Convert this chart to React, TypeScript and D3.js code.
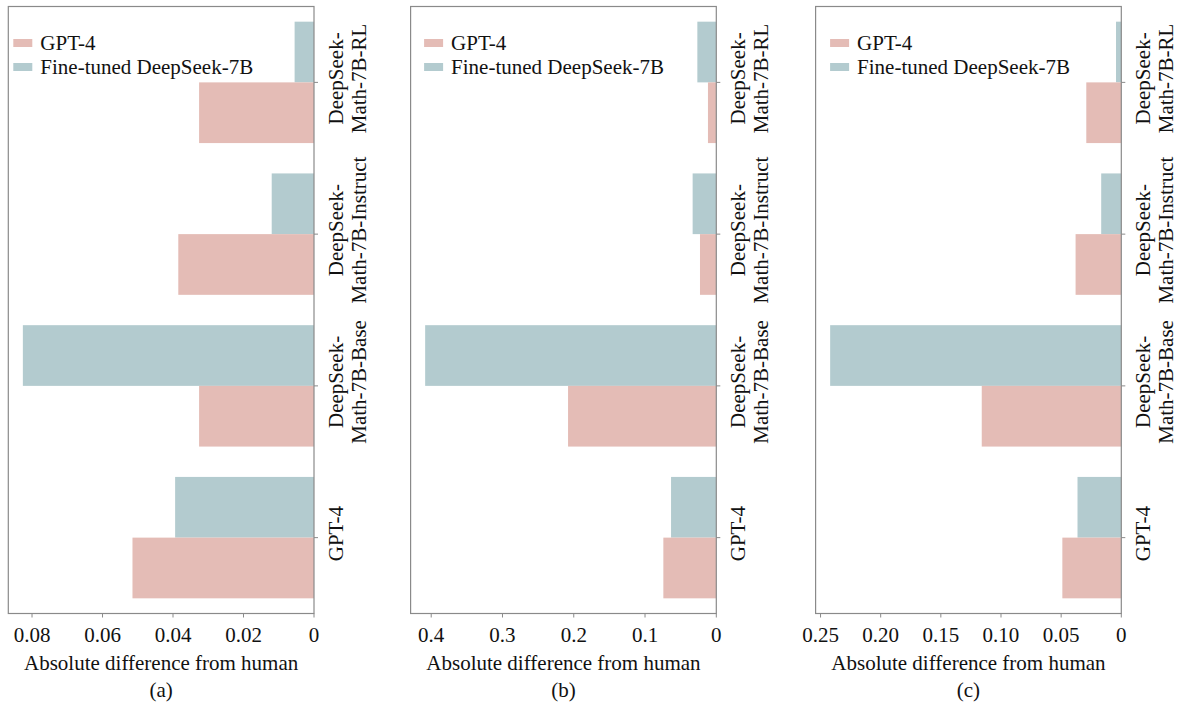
import React from 'react';
import * as d3 from 'd3';

// categories, top to bottom
const categories = ['DeepSeek-Math-7B-RL', 'DeepSeek-Math-7B-Instruct', 'DeepSeek-Math-7B-Base', 'GPT-4'];
const categoryLines = [
  ['DeepSeek-', 'Math-7B-RL'],
  ['DeepSeek-', 'Math-7B-Instruct'],
  ['DeepSeek-', 'Math-7B-Base'],
  ['GPT-4'],
];

const seriesNames = ['GPT-4', 'Fine-tuned DeepSeek-7B'];
const seriesColors = ['#e4bcb6', '#b3cbcf'];

// values per panel, same order as categories
const gpt4A = [0.0326, 0.0385, 0.0326, 0.0515];
const tunedA = [0.0055, 0.0120, 0.0826, 0.0394];
const gpt4B = [0.0117, 0.0229, 0.208, 0.0743];
const tunedB = [0.0266, 0.0332, 0.4085, 0.0635];
const gpt4C = [0.0291, 0.038, 0.116, 0.049];
const tunedC = [0.0044, 0.0167, 0.242, 0.0364];

const ticksA = [0.08, 0.06, 0.04, 0.02, 0];
const ticksB = [0.4, 0.3, 0.2, 0.1, 0];
const ticksC = [0.25, 0.2, 0.15, 0.1, 0.05, 0];

const panels = [
  { name: '(a)', left: 8.3, legendDx: 5, gpt4: gpt4A, tuned: tunedA, ticks: ticksA, fmt: (v: number) => (v === 0 ? '0' : d3.format('.2f')(v)) },
  { name: '(b)', left: 410.6, legendDx: 13.5, gpt4: gpt4B, tuned: tunedB, ticks: ticksB, fmt: (v: number) => (v === 0 ? '0' : d3.format('.1f')(v)) },
  { name: '(c)', left: 815.6, legendDx: 14.5, gpt4: gpt4C, tuned: tunedC, ticks: ticksC, fmt: (v: number) => (v === 0 ? '0' : d3.format('.2f')(v)) },
];

const W = 1185;
const H = 705;
const PANEL_W = 305.7;
const TOP = 6.5;
const BOTTOM = 613.5;
const FONT = '"Liberation Serif", "Times New Roman", serif';
const FS = 21;
const SPINE = '#8a8a8a';

const Panel = ({ p }: { p: typeof panels[number] }) => {
  const right = p.left + PANEL_W;
  const max = d3.max([...p.gpt4, ...p.tuned]) as number;
  const x = d3.scaleLinear().domain([max * 1.05, 0]).range([p.left, right]);
  const y = d3.scaleBand().domain(categories).range([TOP, BOTTOM]).padding(0);
  const bw = y.bandwidth();
  const barH = bw * 0.4;
  const cx = (p.left + right) / 2;

  return (
    <g>
      {categories.map((c, i) => {
        const mid = (y(c) as number) + bw / 2;
        return (
          <g key={c}>
            <rect x={x(p.tuned[i])} y={mid - barH} width={x(0) - x(p.tuned[i])} height={barH} fill={seriesColors[1]} />
            <rect x={x(p.gpt4[i])} y={mid} width={x(0) - x(p.gpt4[i])} height={barH} fill={seriesColors[0]} />
          </g>
        );
      })}

      {/* frame */}
      <rect x={p.left} y={TOP} width={PANEL_W} height={BOTTOM - TOP} fill="none" stroke={SPINE} strokeWidth={1.2} />

      {/* bottom ticks */}
      {p.ticks.map(t => (
        <g key={t}>
          <line x1={x(t)} x2={x(t)} y1={BOTTOM} y2={BOTTOM + 4} stroke={SPINE} strokeWidth={1} />
          <text x={x(t)} y={642} textAnchor="middle" fontSize={FS} fontFamily={FONT} fill="#111">{p.fmt(t)}</text>
        </g>
      ))}

      {/* right category ticks + rotated labels */}
      {categories.map((c, i) => {
        const mid = (y(c) as number) + bw / 2;
        return (
          <g key={c}>
            <line x1={right} x2={right + 4} y1={mid} y2={mid} stroke={SPINE} strokeWidth={1} />
            {categoryLines[i].map((line, j) => (
              <text key={j} transform={`translate(${right + 29 + j * 23},${mid - 4}) rotate(-90)`}
                textAnchor="middle" fontSize={FS} fontFamily={FONT} fill="#111">{line}</text>
            ))}
          </g>
        );
      })}

      <text x={cx} y={670} textAnchor="middle" fontSize={FS} fontFamily={FONT} fill="#111">Absolute difference from human</text>
      <text x={cx} y={697} textAnchor="middle" fontSize={FS} fontFamily={FONT} fill="#111">{p.name}</text>

      {/* legend */}
      {seriesNames.map((s, i) => (
        <g key={s} transform={`translate(${p.left + p.legendDx},${39 + i * 24})`}>
          <rect x={0} y={0} width={19} height={8} fill={seriesColors[i]} />
          <text x={27} y={11} fontSize={FS} fontFamily={FONT} fill="#111">{s}</text>
        </g>
      ))}
    </g>
  );
};

export default function App() {
  return (
    <div style={{ position: 'absolute', left: 0, top: 0, width: W, height: H, background: '#fff' }}>
      <svg width={W} height={H} style={{ display: 'block' }}>
        <rect width={W} height={H} fill="#fff" />
        {panels.map(p => <Panel key={p.name} p={p} />)}
      </svg>
    </div>
  );
}
